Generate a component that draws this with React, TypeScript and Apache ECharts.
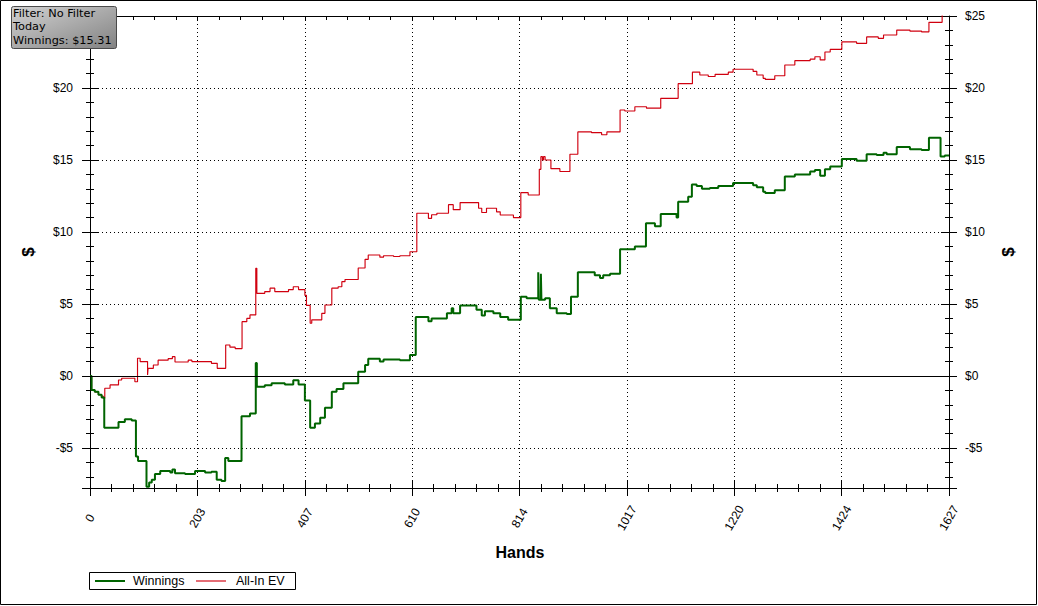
import React, { useEffect, useRef } from "react";
import * as echarts from "echarts";

// [hand, $] — value holds from this hand until the next point
const winningsPoints: [number, number][] = [
  [0, 0], [3, -0.97], [9, -1.1], [16, -1.3], [22, -1.5], [27, -3.6], [54, -3.2], [66, -3.0], [79, -3.1],
  [87, -5.6], [91, -5.9], [107, -7.7], [112, -7.4], [117, -7.2], [123, -6.8], [133, -6.6], [152, -6.7],
  [156, -6.5], [161, -6.75], [180, -6.8], [199, -6.6], [218, -6.7], [230, -6.65], [240, -7.2], [249, -7.3],
  [256, -5.7], [262, -5.9], [287, -2.8], [303, -2.6], [314, 0.9], [316, -0.74], [331, -0.65], [344, -0.5],
  [369, -0.6], [385, -0.3], [395, -0.6], [407, -1.7], [417, -3.6], [426, -3.3], [436, -2.9], [445, -2.2],
  [458, -1.1], [467, -0.9], [480, -0.5], [508, 0.3], [521, 0.76], [527, 1.2], [549, 1.0], [556, 1.15],
  [587, 1.1], [606, 1.46], [617, 4.1], [641, 3.8], [647, 4.0], [676, 4.35], [685, 4.7], [688, 4.35],
  [701, 4.9], [732, 4.6], [742, 4.2], [748, 4.5], [764, 4.35], [777, 4.1], [792, 3.9], [816, 5.5],
  [827, 5.4], [849, 7.2], [850, 5.3], [854, 7.1], [855, 5.3], [862, 5.4], [871, 4.7], [884, 4.35],
  [903, 4.3], [911, 5.5], [924, 7.2], [956, 7.0], [966, 6.8], [972, 7.0], [985, 7.1], [1004, 8.8],
  [1032, 9.0], [1053, 10.6], [1070, 10.4], [1081, 11.25], [1111, 11.0], [1114, 12.1], [1133, 12.45],
  [1140, 13.3], [1149, 13.2], [1159, 13.0], [1174, 13.05], [1190, 13.2], [1218, 13.4], [1256, 13.25],
  [1263, 13.1], [1275, 12.8], [1279, 12.7], [1297, 12.9], [1316, 13.85], [1335, 14.0], [1364, 14.2],
  [1373, 14.3], [1383, 13.9], [1392, 14.35], [1402, 14.55], [1424, 15.07], [1452, 14.95], [1471, 15.4],
  [1490, 15.35], [1503, 15.5], [1509, 15.4], [1528, 15.9], [1553, 15.75], [1575, 15.7], [1589, 16.55],
  [1611, 15.25], [1619, 15.31], [1627, 15.31],
];

const allInEvPoints: [number, number][] = [
  [0, 0], [3, -0.97], [9, -1.1], [16, -1.3], [22, -1.4], [25, -1.55], [28, -0.85], [38, -0.62], [54, -0.28],
  [60, -0.16], [85, -0.4], [90, 1.23], [95, 1.0], [109, 0.07], [110, 0.53], [120, 0.76], [129, 1.1],
  [148, 1.2], [156, 1.34], [161, 0.97], [186, 1.1], [193, 1.0], [230, 0.88], [241, 0.53], [257, 2.15],
  [265, 2.0], [275, 1.9], [288, 3.77], [297, 4.0], [303, 4.24], [314, 7.48], [316, 5.74], [331, 5.86],
  [341, 6.1], [350, 5.86], [376, 6.0], [385, 6.2], [395, 6.0], [407, 5.6], [410, 4.9], [417, 3.66],
  [420, 3.9], [439, 4.35], [445, 4.93], [458, 6.1], [470, 6.2], [477, 6.55], [483, 6.7], [508, 7.5],
  [521, 8.1], [527, 8.4], [549, 8.25], [556, 8.35], [575, 8.3], [587, 8.35], [606, 8.63], [619, 11.3],
  [641, 10.95], [647, 11.2], [657, 11.3], [679, 11.9], [688, 11.55], [701, 12.04], [736, 11.65],
  [742, 11.35], [751, 11.65], [770, 11.4], [777, 11.18], [802, 11.0], [816, 12.73], [830, 12.57],
  [851, 14.35], [854, 15.23], [857, 15.0], [859, 15.23], [862, 15.0], [873, 14.4], [890, 14.2],
  [909, 15.4], [924, 16.95], [950, 16.9], [969, 16.75], [979, 16.95], [1004, 18.47], [1013, 18.4],
  [1032, 18.7], [1054, 18.6], [1081, 19.28], [1114, 20.3], [1141, 21.1], [1155, 20.9], [1171, 20.8],
  [1184, 20.95], [1209, 21.1], [1218, 21.3], [1256, 21.15], [1263, 20.9], [1275, 20.67], [1279, 20.6],
  [1297, 20.85], [1316, 21.6], [1335, 21.9], [1364, 22.0], [1373, 22.17], [1383, 21.95], [1392, 22.5],
  [1402, 22.68], [1424, 23.2], [1452, 23.1], [1471, 23.55], [1493, 23.45], [1503, 23.68], [1528, 24.02],
  [1553, 23.95], [1575, 23.9], [1589, 24.56], [1614, 25.4], [1627, 25.4],
];

const seriesNames = ["Winnings", "All-In EV"];
const seriesColors = ["#006400", "#d0000f"];
const seriesWidths = [2, 1.15];
const handsMax = 1627;
const handsMajorInterval = 1627 / 8;
const dollarsMin = -7.78;
const dollarsMax = 25;
const filterBoxLines = ["Filter: No Filter", "Today", "Winnings: $15.31"];
const xAxisTitle = "Hands";
const yAxisTitle = "$";

const FONT = "Liberation Sans";

function dollarLabel(v: number): string {
  const r = Math.round(v / 5) * 5;
  if (Math.abs(v - r) > 1e-6) return "";
  return r < 0 ? `-$${-r}` : `$${r}`;
}

export default function App() {
  const ref = useRef<HTMLDivElement>(null);

  useEffect(() => {
    const chart = echarts.init(ref.current!, null, { renderer: "svg" });

    const yBase = (position: "left" | "right", inside: boolean, main: boolean) => ({
      type: "value",
      position,
      min: dollarsMin,
      max: dollarsMax,
      splitNumber: 5,
      axisLine: { show: main, onZero: false, lineStyle: { color: "#000", width: 1 } },
      axisTick: { show: true, inside, length: 8, lineStyle: { color: "#000" } },
      minorTick: { show: true, splitNumber: 5, length: 4, lineStyle: { color: "#000" } },
      axisLabel: {
        show: main,
        margin: position === "left" ? 17 : 16,
        color: "#000",
        fontFamily: FONT,
        fontSize: 12,
        formatter: (v: number) =>
          position === "left" && Math.abs(v - dollarsMax) < 1e-6 ? "" : dollarLabel(v),
      },
      splitLine: {
        show: main && position === "left",
        lineStyle: { color: "#000", type: [1, 3], width: 1 },
      },
    });

    const legendY = 581;
    const legendItems = [
      { lineX: 95, textX: 133 },
      { lineX: 196, textX: 236 },
    ];

    const option: any = {
      animation: false,
      backgroundColor: "#fff",
      grid: { left: 90, right: 89, top: 16, bottom: 118, containLabel: false },
      legend: { show: false, data: seriesNames },
      xAxis: [
        {
          type: "value",
          position: "bottom",
          min: 0,
          max: handsMax,
          interval: handsMajorInterval,
          axisLine: { show: true, onZero: false, lineStyle: { color: "#000", width: 1 } },
          axisTick: { show: true, inside: false, length: 8, lineStyle: { color: "#000" } },
          minorTick: { show: true, splitNumber: 5, length: 4, lineStyle: { color: "#000" } },
          axisLabel: {
            rotate: 60,
            align: "center",
            verticalAlign: "middle",
            margin: 30,
            color: "#000",
            fontFamily: FONT,
            fontSize: 12,
            formatter: (v: number) => String(Math.round(v)),
          },
          splitLine: { show: true, lineStyle: { color: "#000", type: [1, 3], width: 1 } },
        },
        {
          type: "value",
          position: "bottom",
          min: 0,
          max: handsMax,
          interval: handsMajorInterval,
          axisLine: { show: false, onZero: false },
          axisTick: { show: true, inside: true, length: 8, lineStyle: { color: "#000" } },
          minorTick: { show: true, splitNumber: 5, length: 4, lineStyle: { color: "#000" } },
          axisLabel: { show: false },
          splitLine: { show: false },
        },
        {
          type: "value",
          position: "top",
          min: 0,
          max: handsMax,
          interval: handsMajorInterval / 5,
          axisLine: { show: true, onZero: false, lineStyle: { color: "#000", width: 1 } },
          axisTick: { show: true, inside: true, length: 4, lineStyle: { color: "#000" } },
          axisLabel: { show: false },
          splitLine: { show: false },
        },
      ],
      yAxis: [
        yBase("left", false, true),
        yBase("right", false, true),
        yBase("left", true, false),
        yBase("right", true, false),
      ],
      series: [
        {
          name: seriesNames[0],
          type: "line",
          step: "end",
          xAxisIndex: 0,
          yAxisIndex: 0,
          data: winningsPoints,
          showSymbol: false,
          symbol: "none",
          z: 4,
          lineStyle: { color: seriesColors[0], width: seriesWidths[0] },
          itemStyle: { color: seriesColors[0] },
        },
        {
          name: seriesNames[1],
          type: "line",
          step: "end",
          xAxisIndex: 0,
          yAxisIndex: 0,
          data: allInEvPoints,
          showSymbol: false,
          symbol: "none",
          z: 3,
          lineStyle: { color: seriesColors[1], width: seriesWidths[1] },
          itemStyle: { color: seriesColors[1] },
          markLine: {
            silent: true,
            symbol: ["none", "none"],
            label: { show: false },
            lineStyle: { color: "#000", type: "solid", width: 1 },
            data: [{ yAxis: 0 }],
          },
        },
      ],
      graphic: [
        {
          type: "rect",
          z: 0,
          silent: true,
          shape: { x: 0.5, y: 0.5, width: 1036, height: 604 },
          style: { fill: "none", stroke: "#000", lineWidth: 1 },
        },
        {
          type: "text",
          silent: true,
          x: 520,
          y: 552,
          style: {
            text: xAxisTitle,
            fontFamily: FONT,
            fontWeight: "bold",
            fontSize: 16,
            fill: "#000",
            align: "center",
            verticalAlign: "middle",
          },
        },
        {
          type: "text",
          silent: true,
          x: 28,
          y: 252,
          rotation: Math.PI / 2,
          style: {
            text: yAxisTitle,
            fontFamily: FONT,
            fontWeight: "bold",
            fontSize: 17,
            fill: "#000",
            align: "center",
            verticalAlign: "middle",
          },
        },
        {
          type: "text",
          silent: true,
          x: 1008,
          y: 252,
          rotation: Math.PI / 2,
          style: {
            text: yAxisTitle,
            fontFamily: FONT,
            fontWeight: "bold",
            fontSize: 17,
            fill: "#000",
            align: "center",
            verticalAlign: "middle",
          },
        },
        // legend
        {
          type: "rect",
          silent: true,
          z: 50,
          shape: { x: 89.5, y: 572.5, width: 206, height: 17 },
          style: { fill: "#fff", stroke: "#000", lineWidth: 1 },
        },
        ...seriesNames.flatMap((name, i) => [
          {
            type: "line",
            silent: true,
            z: 51,
            shape: { x1: legendItems[i].lineX, y1: legendY, x2: legendItems[i].lineX + 30, y2: legendY },
            style: { stroke: seriesColors[i], lineWidth: seriesWidths[i] },
          },
          {
            type: "text",
            silent: true,
            z: 51,
            x: legendItems[i].textX,
            y: legendY,
            style: {
              text: name,
              fontFamily: FONT,
              fontSize: 12.5,
              fill: "#000",
              align: "left",
              verticalAlign: "middle",
            },
          },
        ]),
        // filter box
        {
          type: "rect",
          z: 100,
          silent: true,
          shape: { x: 11.5, y: 6.5, width: 105, height: 42, r: 2 },
          style: {
            fill: new echarts.graphic.LinearGradient(0, 0, 1, 1, [
              { offset: 0, color: "#d2d2d2" },
              { offset: 1, color: "#828282" },
            ]),
            stroke: "#4a4a4a",
            lineWidth: 1,
          },
        },
        ...filterBoxLines.map((t, i) => ({
          type: "text",
          z: 101,
          silent: true,
          x: 13,
          y: 13.6 + i * 13.3,
          style: {
            text: t,
            fontFamily: "DejaVu Sans",
            fontSize: 11.3,
            fill: "#000",
            align: "left",
            verticalAlign: "middle",
          },
        })),
      ],
    };

    chart.setOption(option);
    return () => chart.dispose();
  }, []);

  return (
    <div
      ref={ref}
      style={{ position: "fixed", left: 0, top: 0, width: 1038, height: 606, background: "#fff" }}
    />
  );
}
